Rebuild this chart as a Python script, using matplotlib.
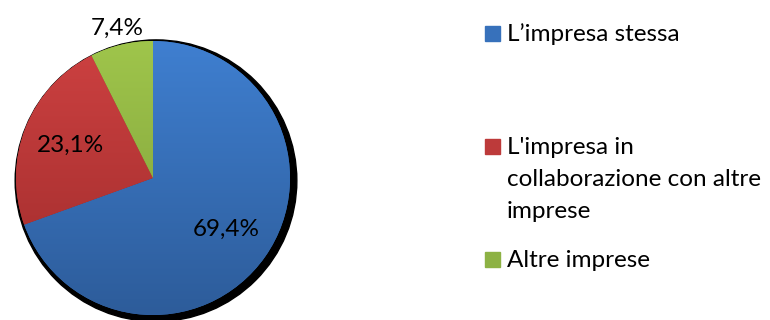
import numpy as np
import matplotlib
matplotlib.use("Agg")
import matplotlib.pyplot as plt
from matplotlib.colors import LinearSegmentedColormap
from matplotlib.patches import Circle, Rectangle

# quota di innovazioni per chi le ha sviluppate
labels = ["L\u2019impresa stessa",
          "L'impresa in\ncollaborazione con altre\nimprese",
          "Altre imprese"]
values = [69.4, 23.1, 7.4]
pct_text = ["69,4%", "23,1%", "7,4%"]

# colori (alto -> basso del gradiente)
grad_top = ["#3f7fd0", "#cd4141", "#9fc54b"]
grad_bot = ["#2d5c9a", "#9e2b2b", "#7c9c39"]
mid_col = ["#3771bb", "#bd3a3a", "#8db244"]

plt.rcParams['font.family'] = ['Lato', 'DejaVu Sans']
FS = 17.5

W, H = 770, 320
fig = plt.figure(figsize=(W / 100, H / 100), dpi=100)

# torta: centro (153,178) px, raggio 137 px
cx, cy, R = 153, 178, 137
half = 150
ax = fig.add_axes([(cx - half) / W, (H - cy - half) / H, 2 * half / W, 2 * half / H])
ax.axis("off")

# ombra
ax.add_patch(Circle((0.022, -0.02), 1.028, color="black", zorder=0, clip_on=False))

wedges, _, autotexts = ax.pie(values, colors=mid_col, startangle=90, counterclock=False,
                              autopct="%1.1f%%", pctdistance=0.65,
                              wedgeprops=dict(linewidth=0), textprops=dict(fontsize=FS))

grad = np.linspace(0, 1, 256).reshape(-1, 1)
for w, t, b in zip(wedges, grad_top, grad_bot):
    cmap = LinearSegmentedColormap.from_list("g", [t, b])
    im = ax.imshow(grad, cmap=cmap, extent=(-1, 1, -1, 1), origin="upper",
                   aspect="auto", zorder=1)
    im.set_clip_path(w)
    w.set_clip_on(False)

for at, s in zip(autotexts, pct_text):
    at.set_text(s)
    at.set_zorder(3)
    at.set_color("black")

# etichetta della fetta piccola fuori dalla torta
ang = np.deg2rad((wedges[2].theta1 + wedges[2].theta2) / 2)
autotexts[2].set_position((1.14 * np.cos(ang), 1.12 * np.sin(ang)))
ax.set_xlim(-half / R, half / R)
ax.set_ylim(-half / R, half / R)

# legenda (y = linea di base della prima riga, in px dall'alto)
leg_y = [41, 154, 267]
line_step = 32
for lab, col, y in zip(labels, mid_col, leg_y):
    fig.add_artist(Rectangle((485 / W, 1 - y / H), 15 / W, 15 / H,
                             color=col, transform=fig.transFigure))
    for i, riga in enumerate(lab.split("\n")):
        fig.text(507 / W, 1 - (y + i * line_step) / H, riga, fontsize=FS,
                 va="baseline", ha="left")

fig.savefig("out.png", dpi=100)
